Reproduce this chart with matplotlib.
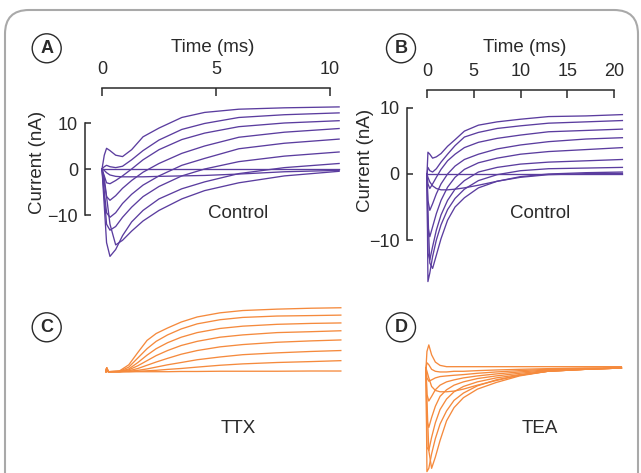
import numpy as np
import matplotlib
matplotlib.use('Agg')
import matplotlib.pyplot as plt
from matplotlib.patches import FancyBboxPatch, Circle

plt.rcParams['font.family'] = ['Liberation Sans', 'DejaVu Sans']

PURPLE = '#5b3d9f'
ORANGE = '#f58a3d'
INK = '#2a2a2a'

# ── data ────────────────────────────────────────────────────────
# A: control, short time scale (ms / nA)
a_time = [0, 0.1, 0.2, 0.35, 0.6, 0.9, 1.3, 1.8, 2.5, 3.5, 4.5, 6, 8, 10.4]
a_traces = [
    [0, 3.0, 4.5, 4.0, 3.0, 2.7, 4.2, 7.0, 8.9, 11.2, 12.3, 13.0, 13.3, 13.5],
    [0, 0.5, 0.8, 0.5, 0.3, 0.6, 2.0, 4.0, 6.3, 8.6, 9.9, 11.2, 11.8, 12.2],
    [0, -1.5, -3.0, -3.2, -2.5, -1.5, 0.0, 2.0, 4.2, 6.4, 7.8, 9.2, 10.0, 10.5],
    [0, -3.0, -6.0, -6.8, -5.8, -4.2, -2.5, -0.7, 1.2, 3.4, 5.0, 6.9, 8.0, 8.8],
    [0, -5.0, -9.5, -10.5, -9.5, -7.5, -5.5, -3.5, -1.5, 0.8, 2.3, 4.4, 5.6, 6.5],
    [0, -6.0, -12.0, -13.3, -12.5, -10.5, -8.3, -6.0, -3.8, -1.5, 0.0, 1.6, 2.8, 3.7],
    [0, -8.0, -16.0, -19.0, -17.5, -14.5, -11.5, -9.0, -6.5, -4.3, -2.8, -1.0, 0.3, 1.2],
    [0, -2.0, -6.0, -12.0, -16.5, -15.5, -13.5, -11.3, -9.0, -6.5, -4.7, -3.0, -1.5, -0.5],
    [0, -0.3, -0.8, -1.3, -1.6, -1.7, -1.7, -1.7, -1.6, -1.5, -1.4, -1.1, -0.6, -0.3],
    [0, 0, 0, 0, 0, 0, 0, 0, 0, 0, 0, 0, 0, 0],
]

# B: control, long time scale
b_time = [0, 0.1, 0.3, 0.6, 1.0, 1.5, 2.2, 3, 4, 5.5, 7.5, 10, 13, 17, 20.9]
b_traces = [
    [0, 3.3, 3.0, 2.4, 2.6, 3.1, 4.2, 5.2, 6.5, 7.4, 7.9, 8.3, 8.7, 8.8, 9.0],
    [0, 1.0, 0.5, 0.3, 0.8, 1.8, 3.0, 4.3, 5.6, 6.3, 6.9, 7.3, 7.7, 7.9, 8.1],
    [0, -1.5, -2.2, -1.5, -0.5, 0.7, 2.0, 3.0, 4.0, 4.8, 5.4, 5.9, 6.4, 6.6, 6.8],
    [0, -4.0, -5.5, -4.5, -3.0, -1.5, 0.0, 1.2, 2.2, 3.0, 3.8, 4.4, 4.9, 5.3, 5.5],
    [0, -8.0, -9.5, -8.0, -6.0, -4.0, -2.0, -0.5, 0.7, 1.7, 2.4, 3.0, 3.4, 3.7, 4.0],
    [0, -12.0, -13.0, -11.0, -8.5, -6.2, -4.0, -2.3, -1.0, 0.3, 1.0, 1.5, 1.8, 2.0, 2.2],
    [0, -16.3, -15.0, -12.5, -10.0, -7.7, -5.4, -3.7, -2.3, -1.0, -0.1, 0.5, 0.8, 0.9, 1.0],
    [0, -6.0, -13.5, -14.3, -12.3, -9.8, -7.0, -5.0, -3.6, -2.1, -1.1, -0.4, 0.0, 0.2, 0.3],
    [0, -0.5, -1.2, -1.8, -2.2, -2.4, -2.4, -2.3, -2.1, -1.7, -1.1, -0.5, -0.1, 0.05, 0.1],
    [0, 0, 0, 0, 0, 0, 0, 0, 0, 0, 0, 0, 0, 0, 0],
]

# C: TTX (Na current blocked), same scales as A
c_time = [0, 0.03, 0.1, 0.6, 1.0, 1.4, 1.8, 2.2, 2.7, 3.3, 4.0, 5.0, 6.0, 7.5, 9.0, 10.3]
c_traces = [
    [0, 0.8, 0, 0.2, 1.5, 4.2, 6.8, 8.3, 9.5, 10.8, 11.9, 12.8, 13.3, 13.6, 13.8, 13.9],
    [0, 0.8, 0, 0.1, 1.0, 3.0, 5.0, 6.6, 8.0, 9.3, 10.4, 11.3, 11.8, 12.1, 12.2, 12.3],
    [0, 0.8, 0, 0.05, 0.6, 2.0, 3.6, 5.0, 6.3, 7.5, 8.5, 9.4, 9.9, 10.3, 10.5, 10.6],
    [0, 0.8, 0, 0, 0.4, 1.3, 2.4, 3.5, 4.6, 5.7, 6.6, 7.5, 8.0, 8.5, 8.7, 8.9],
    [0, 0.8, 0, 0, 0.2, 0.7, 1.4, 2.1, 2.9, 3.8, 4.6, 5.4, 5.9, 6.4, 6.7, 6.9],
    [0, 0.8, 0, 0, 0.1, 0.3, 0.6, 1.0, 1.5, 2.0, 2.6, 3.2, 3.7, 4.1, 4.4, 4.6],
    [0, 0.8, 0, 0, 0, 0.1, 0.2, 0.3, 0.5, 0.7, 1.0, 1.4, 1.7, 2.0, 2.2, 2.4],
    [0, 0.8, 0, 0, 0, 0, 0, 0, 0, 0.05, 0.05, 0.1, 0.1, 0.1, 0.15, 0.15],
]

# D: TEA (K current blocked), same scales as B
d_time = [0, 0.1, 0.3, 0.6, 1.0, 1.5, 2.2, 3, 4, 5.5, 7.5, 10, 13, 17, 20.9]
d_traces = [
    [0, 2.5, 3.5, 2.0, 0.9, 0.4, 0.2, 0.2, 0.2, 0.2, 0.2, 0.2, 0.2, 0.2, 0.2],
    [0, 0.8, 0.5, -0.2, -0.5, -0.6, -0.6, -0.5, -0.5, -0.4, -0.3, -0.2, -0.1, 0, 0],
    [0, -1.5, -2.0, -1.8, -1.5, -1.3, -1.2, -1.1, -1.0, -0.8, -0.6, -0.4, -0.2, -0.1, 0],
    [0, -4.0, -5.0, -4.3, -3.3, -2.6, -2.1, -1.8, -1.5, -1.2, -0.9, -0.6, -0.3, -0.1, 0],
    [0, -8.0, -9.0, -7.5, -5.8, -4.3, -3.3, -2.6, -2.1, -1.6, -1.2, -0.8, -0.4, -0.2, 0],
    [0, -12.0, -12.5, -10.5, -8.3, -6.3, -4.7, -3.6, -2.8, -2.1, -1.5, -1.0, -0.5, -0.2, 0],
    [0, -15.7, -15.2, -13.0, -10.7, -8.5, -6.5, -4.9, -3.8, -2.7, -1.8, -1.1, -0.5, -0.2, 0],
    [0, -5.0, -12.5, -15.2, -13.5, -11.0, -8.0, -6.0, -4.5, -3.2, -2.2, -1.2, -0.5, -0.2, 0],
    [0, -0.5, -1.5, -2.8, -3.4, -3.6, -3.6, -3.5, -3.2, -2.6, -1.9, -1.1, -0.5, -0.2, 0],
]

# ── layout in pixel space ───────────────────────────────────────
W, H = 641, 473
fig = plt.figure(figsize=(W / 100, H / 100), dpi=100)

bg = fig.add_axes([0, 0, 1, 1], zorder=-1)
bg.set_xlim(0, W)
bg.set_ylim(H, 0)
bg.axis('off')
bg.add_patch(FancyBboxPatch((5, 10), 633, 540,
                            boxstyle='round,pad=0,rounding_size=24',
                            fc='white', ec='#a9a9a9', lw=1.5))


def px_axes(x0, sx, y0, sy, xlim, ylim):
    left, right = x0 + xlim[0] * sx, x0 + xlim[1] * sx
    top, bottom = y0 - ylim[1] * sy, y0 - ylim[0] * sy
    ax = fig.add_axes([left / W, 1 - bottom / H, (right - left) / W, (bottom - top) / H])
    ax.set_xlim(xlim)
    ax.set_ylim(ylim)
    ax.patch.set_alpha(0)
    return ax


def style_axes(ax, xticks, yticks):
    ax.spines[['right', 'bottom']].set_visible(False)
    for s in ['top', 'left']:
        ax.spines[s].set_linewidth(1.1)
        ax.spines[s].set_color(INK)
    ax.spines['top'].set_bounds(xticks[0], xticks[-1])
    ax.spines['left'].set_bounds(yticks[0], yticks[-1])
    ax.set_xticks(xticks)
    ax.set_yticks(yticks)
    ax.tick_params(axis='x', top=True, bottom=False, labeltop=True, labelbottom=False,
                   direction='in', length=6, width=1.1, color=INK, labelsize=13,
                   labelcolor=INK, pad=7)
    ax.tick_params(axis='y', direction='in', length=4, width=1.1, color=INK,
                   labelsize=13, labelcolor=INK, pad=5)


def draw(ax, t, traces, color):
    for tr in traces:
        ax.plot(t, tr, color=color, lw=0.95, solid_joinstyle='round')


# panel A
axA = px_axes(102, 22.8, 169, 4.6, (-0.75, 10.7), (-21, 17.6))
style_axes(axA, [0, 5, 10], [-10, 0, 10])
draw(axA, a_time, a_traces, PURPLE)

# panel B
axB = px_axes(427, 9.35, 174, 6.6, (-2.17, 21.6), (-18.5, 12.7))
style_axes(axB, [0, 5, 10, 15, 20], [-10, 0, 10])
draw(axB, b_time, b_traces, PURPLE)

# panel C
axC = px_axes(106, 22.8, 371.7, 4.6, (-0.5, 10.7), (-5, 17))
axC.axis('off')
draw(axC, c_time, c_traces, ORANGE)

# panel D
axD = px_axes(426, 9.35, 368, 6.6, (-1, 21.6), (-17, 5))
axD.axis('off')
draw(axD, d_time, d_traces, ORANGE)

# ── labels ──────────────────────────────────────────────────────
for (cx, cy), letter in zip([(46.7, 48.3), (401, 48.3), (46.7, 327.3), (401, 327.3)],
                            ['A', 'B', 'C', 'D']):
    bg.add_patch(Circle((cx, cy), 14.5, fc='white', ec=INK, lw=1.0))
    bg.text(cx, cy + 0.5, letter, ha='center', va='center', fontsize=13,
            fontweight='bold', color=INK)

txt = dict(ha='center', va='center', fontsize=13.5, color=INK)
bg.text(213, 48, 'Time (ms)', **txt)
bg.text(525, 48, 'Time (ms)', **txt)
bg.text(38, 162, 'Current (nA)', rotation=90, **txt)
bg.text(365, 160, 'Current (nA)', rotation=90, **txt)
bg.text(238, 213, 'Control', **txt)
bg.text(540, 213, 'Control', **txt)
bg.text(238, 428, 'TTX', **txt)
bg.text(540, 428, 'TEA', **txt)

fig.savefig('out.png', dpi=100, facecolor='white')
